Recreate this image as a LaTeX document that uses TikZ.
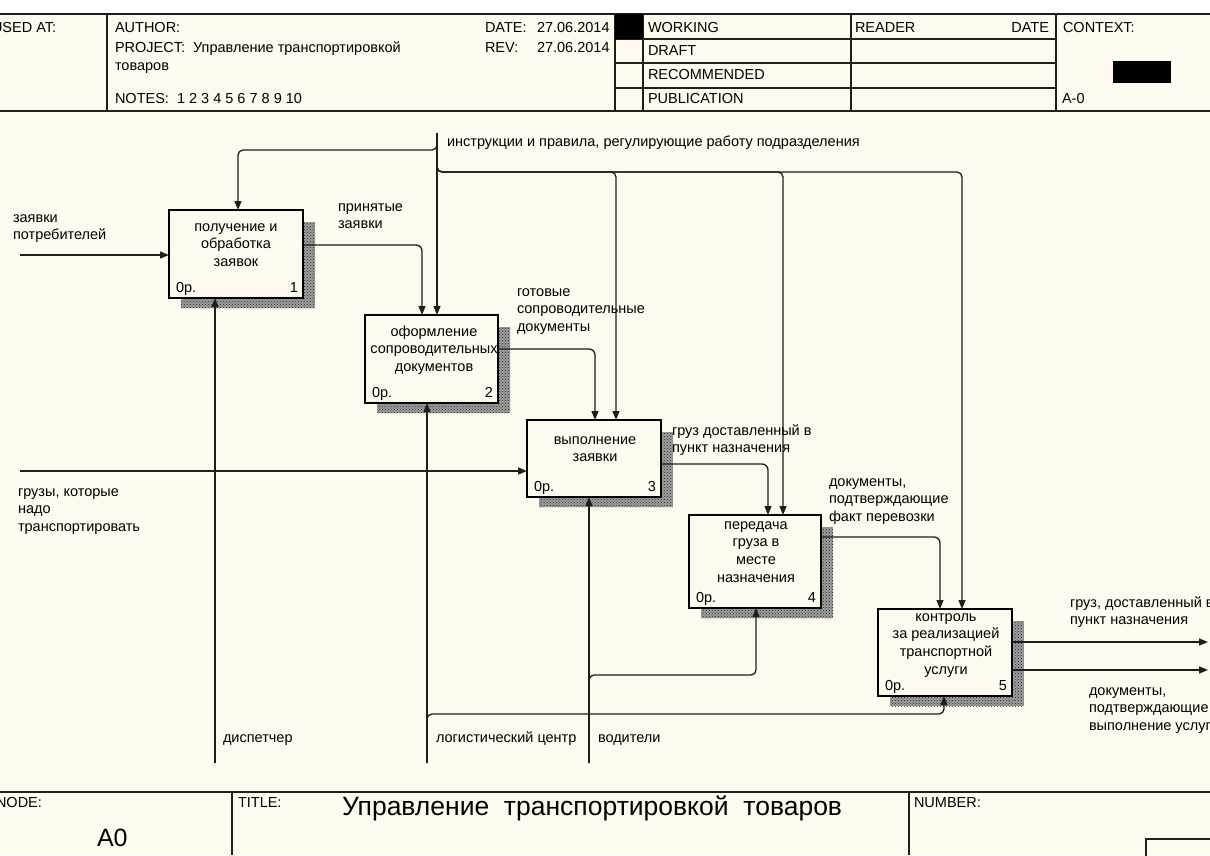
\documentclass[tikz,border=0pt]{standalone}
\usepackage{fontspec}
\setmainfont{Liberation Sans}
\usetikzlibrary{arrows.meta,patterns}
\definecolor{cream}{HTML}{FFFAF0}
\definecolor{ln}{HTML}{1E1E1E}
\newcommand{\fs}{\rule{0pt}{11pt}}
\pgfdeclarelayer{bgl}
\pgfdeclarelayer{shl}
\pgfsetlayers{bgl,shl,main}
\begin{document}
\begin{tikzpicture}[x=1pt,y=-1pt,
  every node/.style={inner sep=0pt, outer sep=0pt, font=\fontsize{14.5}{17.8}\selectfont},
  abox/.style={draw=black, line width=2.6pt, fill=cream},
  boxtxt/.style={anchor=north, align=center},
  lbl/.style={anchor=north west, align=left},
  hd/.style={anchor=base west},
  arr/.style={draw=ln, line width=1.3pt, -{Triangle[length=9pt,width=7pt]}},
  frame/.style={draw=ln, line width=1.6pt},
  shdbase/.style={fill=black!38},
  shd/.style={pattern=crosshatch dots, pattern color=black!85}]
\useasboundingbox (0,0) rectangle (1210,855);
\begin{pgfonlayer}{bgl}
\fill[white] (0,0) rectangle (1210,855);
\fill[cream] (0,14) rectangle (1210,855);
\end{pgfonlayer}

% ---------- header ----------
\draw[frame] (0,14) -- (1210,14);
\draw[frame] (0,111) -- (1210,111);
\draw[frame] (107,14) -- (107,111);
\draw[frame] (615,14) -- (615,111);
\draw[frame] (643,14) -- (643,111);
\draw[frame] (851,14) -- (851,111);
\draw[frame] (1056,14) -- (1056,111);
\draw[frame] (615,39) -- (1056,39);
\draw[frame] (615,63) -- (1056,63);
\draw[frame] (615,88) -- (1056,88);
\fill[black] (615,14) rectangle (643,39);
\fill[black] (1113,61) rectangle (1171,83);

\node[hd] (usedat) at (-8,32) {USED AT:};
\node[hd] (author) at (115,32) {AUTHOR:};
\node[hd] (project) at (115,52) {PROJECT:\ \ Управление транспортировкой};
\node[hd] (project2) at (115,70) {товаров};
\node[hd] (notes) at (115,103) {NOTES:\ \ 1\ 2\ 3\ 4\ 5\ 6\ 7\ 8\ 9\ 10};
\node[hd] (datel) at (485,32) {DATE:};
\node[hd] (datev) at (537,32) {27.06.2014};
\node[hd] (revl) at (485,52) {REV:};
\node[hd] (revv) at (537,52) {27.06.2014};
\node[hd] (working) at (648,32) {WORKING};
\node[hd] (draft) at (648,55) {DRAFT};
\node[hd] (recom) at (648,79) {RECOMMENDED};
\node[hd] (publ) at (648,103) {PUBLICATION};
\node[hd] (reader) at (855,32) {READER};
\node[anchor=base east] (rdate) at (1049,32) {DATE};
\node[hd] (context) at (1063,32) {CONTEXT:};
\node[hd] (a0ctx) at (1062,103) {A-0};

% ---------- footer ----------
\draw[frame] (0,792) -- (1210,792);
\draw[frame] (232,792) -- (232,855);
\draw[frame] (909,792) -- (909,855);
\draw[frame] (1146,860) |- (1215,839);
\node[hd] (nodel) at (-4,807) {NODE:};
\node[hd] (titlel) at (238,807) {TITLE:};
\node[hd] (numberl) at (914,807) {NUMBER:};
\node[hd, font=\fontsize{25}{30}\selectfont] (a0) at (97,846) {A0};
\node[hd, font=\fontsize{26.5}{32}\selectfont] (title) at (342,815) {Управление\ \ транспортировкой\ \ товаров};

% ---------- boxes ----------
\node[abox, minimum width=134pt, minimum height=88pt] (b1) at (236,254) {};
\node[abox, minimum width=133pt, minimum height=88pt] (b2) at (431.5,359) {};
\node[abox, minimum width=134pt, minimum height=77pt] (b3) at (594,458.5) {};
\node[abox, minimum width=132pt, minimum height=93pt] (b4) at (755,561.5) {};
\node[abox, minimum width=134pt, minimum height=87pt] (b5) at (945,652.5) {};
\begin{pgfonlayer}{shl}
\foreach \b in {b1,b2,b3,b4,b5} {
  \fill[shdbase] ([shift={(12pt,-10pt)}]\b.south west) rectangle ([shift={(12pt,-12pt)}]\b.north east);
  \fill[shd] ([shift={(12pt,-10pt)}]\b.south west) rectangle ([shift={(12pt,-12pt)}]\b.north east);
}
\end{pgfonlayer}
\foreach \b/\n in {b1/1,b2/2,b3/3,b4/4,b5/5} {
  \node[anchor=base west] (o\n) at ([shift={(7pt,5.5pt)}]\b.south west) {0р.};
  \node[anchor=base east] (n\n) at ([shift={(-5pt,5.5pt)}]\b.south east) {\n};
}
\node[boxtxt] (b1t) at (236,220) {\fs получение и\\обработка\\заявок};
\node[boxtxt] (b2t) at (434,325) {\fs оформление\\сопроводительных\\документов};
\node[boxtxt] (b3t) at (595,433) {\fs выполнение\\заявки};
\node[boxtxt] (b4t) at (756,518) {\fs передача\\груза в\\месте\\назначения};
\node[boxtxt] (b5t) at (946,610) {\fs контроль\\за реализацией\\транспортной\\услуги};

% ---------- controls ----------
\coordinate (ctop) at (437,133);
\coordinate (cl) at (238,150);
\coordinate (k3) at (616,172);
\coordinate (k4) at (783,172);
\coordinate (k5) at (962,172);
\draw[arr] (ctop) -- (ctop |- b2.north);
\draw[arr, rounded corners=5pt] (ctop) |- (cl) -- (cl |- b1.north);
\draw[arr, rounded corners=5pt] (ctop) |- (k3) -- (k3 |- b3.north);
\draw[arr, rounded corners=5pt] (ctop) |- (k4) -- (k4 |- b4.north);
\draw[arr, rounded corners=5pt] (ctop) |- (k5) -- (k5 |- b5.north);

% ---------- inputs ----------
\coordinate (i1) at (20,255);
\coordinate (i2) at (20,471);
\draw[arr] (i1) -- (i1 -| b1.west);
\draw[arr] (i2) -- (i2 -| b3.west);

% ---------- outputs between boxes ----------
\coordinate (p1) at (422,245);
\coordinate (p2) at (595,349);
\coordinate (p3) at (768,464);
\coordinate (p4) at (940,537);
\draw[arr, rounded corners=6pt] (p1 -| b1.east) -| (p1 |- b2.north);
\draw[arr, rounded corners=6pt] (p2 -| b2.east) -| (p2 |- b3.north);
\draw[arr, rounded corners=6pt] (p3 -| b3.east) -| (p3 |- b4.north);
\draw[arr, rounded corners=6pt] (p4 -| b4.east) -| (p4 |- b5.north);

% ---------- final outputs ----------
\coordinate (q1) at (1208,642);
\coordinate (q2) at (1208,670);
\draw[arr] (q1 -| b5.east) -- (q1);
\draw[arr] (q2 -| b5.east) -- (q2);

% ---------- mechanisms ----------
\coordinate (m1) at (215,763);
\coordinate (m2) at (427,763);
\coordinate (m3) at (589,763);
\coordinate (m2b) at (944,714);
\coordinate (m3b) at (756,675);
\draw[arr] (m1) -- (m1 |- b1.south);
\draw[arr] (m2) -- (m2 |- b2.south);
\draw[arr] (m3) -- (m3 |- b3.south);
\draw[arr, rounded corners=5pt] (m2) |- (m2b) -- (m2b |- b5.south);
\draw[arr, rounded corners=5pt] (m3) |- (m3b) -- (m3b |- b4.south);

% ---------- labels ----------
\node[lbl] (l1) at (13,211) {\fs заявки\\потребителей};
\node[lbl] (l2) at (338,200) {\fs принятые\\заявки};
\node[lbl] (l3) at (447,135) {\fs инструкции и правила, регулирующие работу подразделения};
\node[lbl] (l4) at (517,285) {\fs готовые\\сопроводительные\\документы};
\node[lbl] (l5) at (18,485) {\fs грузы, которые\\надо\\транспортировать};
\node[lbl] (l6) at (672,424) {\fs груз доставленный в\\пункт назначения};
\node[lbl] (l7) at (829,475) {\fs документы,\\подтверждающие\\факт перевозки};
\node[lbl] (l8) at (1070,596) {\fs груз, доставленный в\\пункт назначения};
\node[lbl] (l9) at (1089,684) {\fs документы,\\подтверждающие\\выполнение услуги};
\node[lbl] (l10) at (223,731) {\fs диспетчер};
\node[lbl] (l11) at (436,731) {\fs логистический центр};
\node[lbl] (l12) at (598,731) {\fs водители};
\end{tikzpicture}
\end{document}
